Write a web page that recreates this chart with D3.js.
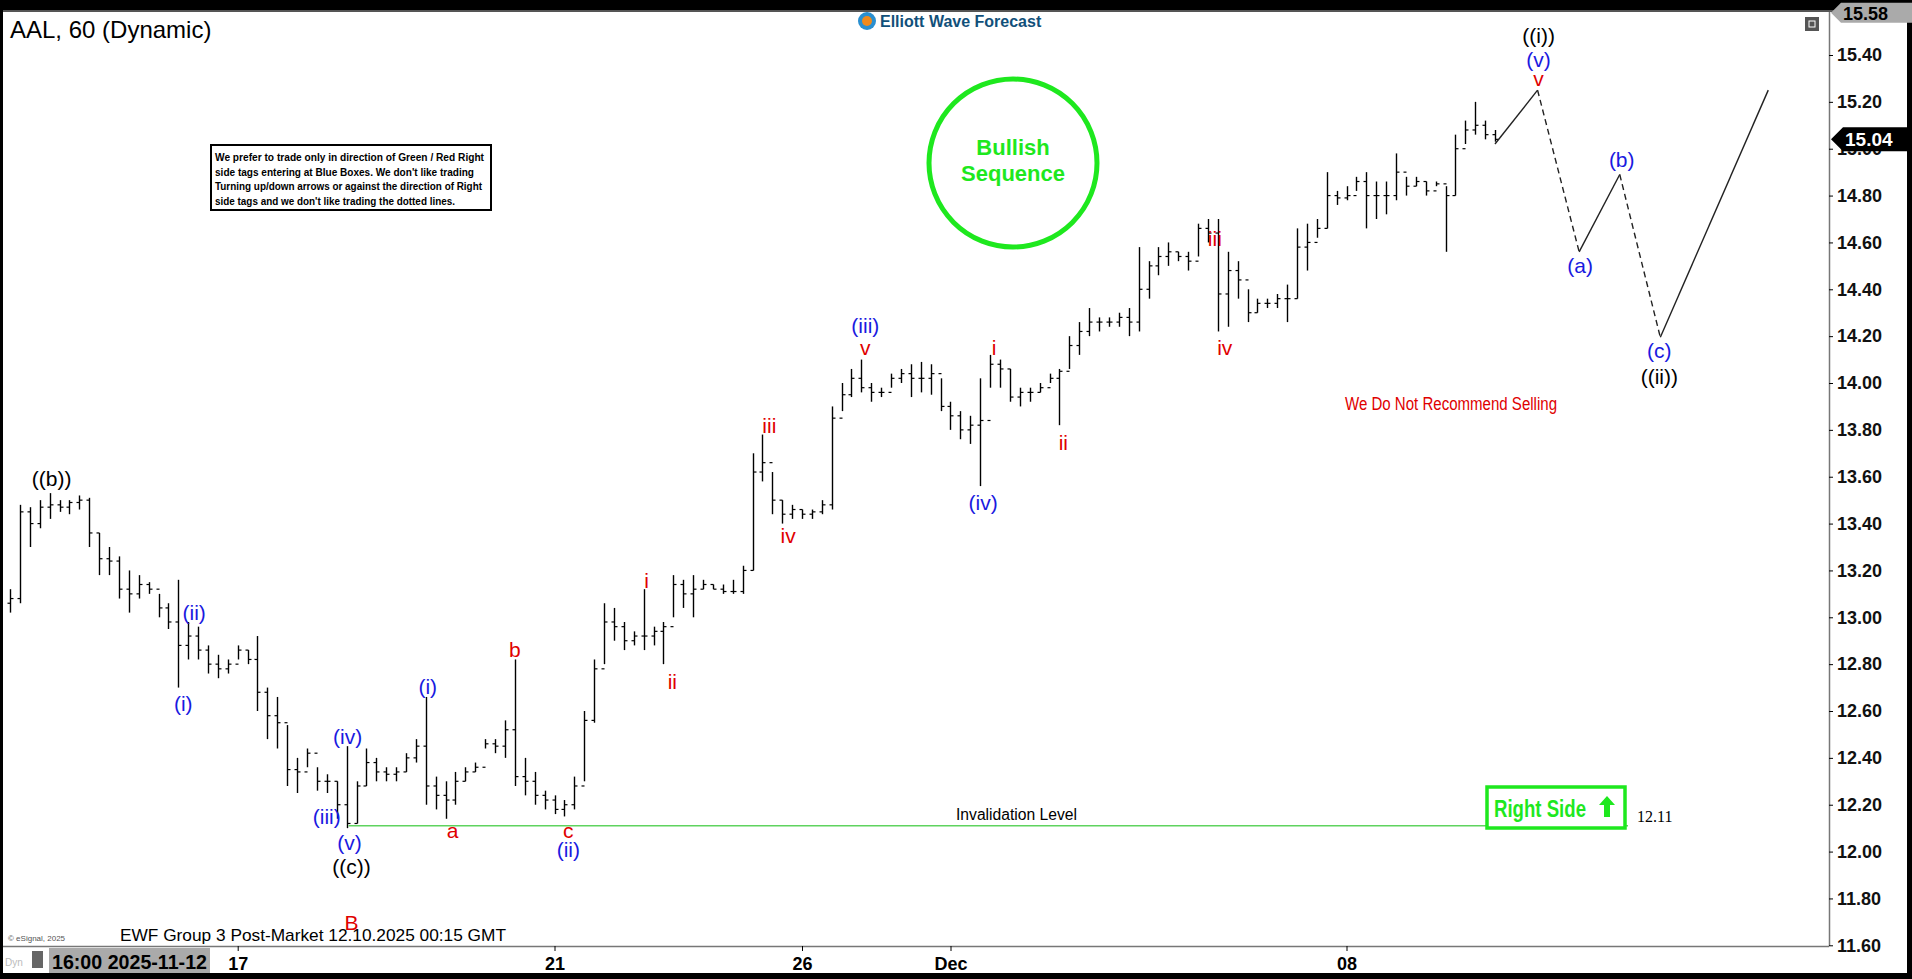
<!DOCTYPE html>
<html><head><meta charset="utf-8">
<script src="https://cdn.jsdelivr.net/npm/d3@7"></script>
<style>body{margin:0;background:#000;overflow:hidden}svg{display:block}</style>
</head><body><svg id="c" width="1912" height="979"></svg>
<script>
// bar data: [high, low, close] per hourly-ish bar
const highs=[13.12,13.48,13.47,13.50,13.53,13.50,13.50,13.52,13.51,13.36,13.30,13.26,13.20,13.18,13.15,13.10,13.06,13.16,12.98,12.96,12.88,12.84,12.82,12.88,12.86,12.92,12.70,12.66,12.54,12.40,12.44,12.36,12.33,12.30,12.45,12.30,12.44,12.40,12.36,12.36,12.42,12.48,12.66,12.32,12.30,12.34,12.36,12.38,12.48,12.48,12.56,12.82,12.40,12.34,12.26,12.24,12.22,12.32,12.60,12.82,13.06,13.04,12.98,12.94,13.12,12.96,12.98,13.18,13.16,13.18,13.16,13.14,13.14,13.16,13.22,13.70,13.78,13.62,13.50,13.48,13.46,13.46,13.50,13.90,14.00,14.06,14.10,14.00,13.98,14.04,14.06,14.08,14.09,14.08,14.02,13.92,13.88,13.86,14.02,14.12,14.10,14.06,13.98,13.98,14.00,14.04,14.06,14.20,14.26,14.32,14.28,14.28,14.30,14.32,14.58,14.52,14.58,14.60,14.56,14.56,14.68,14.70,14.70,14.56,14.52,14.40,14.36,14.36,14.38,14.42,14.66,14.68,14.70,14.90,14.82,14.84,14.88,14.90,14.86,14.86,14.98,14.88,14.88,14.86,14.86,14.84,15.06,15.12,15.20,15.12,15.08];
const lows=[13.02,13.06,13.30,13.38,13.42,13.45,13.44,13.46,13.30,13.18,13.18,13.08,13.02,13.08,13.10,13.00,12.95,12.70,12.82,12.82,12.76,12.74,12.76,12.82,12.80,12.60,12.48,12.44,12.28,12.25,12.36,12.26,12.25,12.14,12.10,12.12,12.28,12.30,12.30,12.30,12.34,12.38,12.20,12.18,12.14,12.20,12.30,12.34,12.44,12.42,12.40,12.28,12.24,12.20,12.18,12.16,12.15,12.18,12.30,12.55,12.80,12.90,12.86,12.88,12.86,12.88,12.80,13.00,13.04,13.00,13.12,13.12,13.10,13.10,13.10,13.20,13.58,13.44,13.40,13.42,13.42,13.42,13.44,13.46,13.88,13.94,13.96,13.92,13.94,13.98,14.00,13.94,13.96,13.95,13.88,13.80,13.76,13.74,13.56,13.98,13.98,13.92,13.90,13.92,13.96,14.00,13.82,14.06,14.12,14.20,14.22,14.24,14.24,14.20,14.22,14.36,14.46,14.50,14.52,14.48,14.54,14.60,14.22,14.24,14.36,14.26,14.30,14.32,14.32,14.26,14.36,14.48,14.62,14.66,14.76,14.78,14.82,14.66,14.70,14.72,14.78,14.80,14.84,14.80,14.84,14.56,14.80,15.02,15.06,15.04,15.03];
const closes=[13.08,13.45,13.40,13.47,13.48,13.47,13.49,13.50,13.36,13.25,13.24,13.12,13.10,13.14,13.12,13.04,12.98,12.88,12.92,12.86,12.80,12.78,12.80,12.86,12.82,12.68,12.58,12.55,12.35,12.34,12.42,12.30,12.30,12.20,12.12,12.28,12.38,12.34,12.33,12.34,12.40,12.45,12.28,12.24,12.22,12.30,12.34,12.36,12.46,12.45,12.52,12.32,12.30,12.24,12.22,12.18,12.20,12.28,12.56,12.78,12.98,12.96,12.90,12.92,12.92,12.94,12.96,13.14,13.10,13.12,13.14,13.12,13.11,13.11,13.20,13.62,13.66,13.50,13.44,13.46,13.44,13.45,13.48,13.85,13.95,14.02,13.98,13.96,13.96,14.02,14.04,14.02,14.02,14.04,13.90,13.86,13.80,13.82,13.84,14.08,14.06,13.94,13.96,13.96,13.98,14.02,14.05,14.16,14.22,14.26,14.26,14.26,14.28,14.26,14.40,14.50,14.54,14.56,14.54,14.52,14.66,14.64,14.38,14.48,14.44,14.30,14.34,14.34,14.36,14.36,14.58,14.60,14.66,14.80,14.79,14.80,14.86,14.80,14.80,14.80,14.90,14.84,14.86,14.82,14.85,14.80,15.00,15.08,15.10,15.06,15.04];
const firstOpen=13.06;
const priceTicks=[11.60,11.80,12.00,12.20,12.40,12.60,12.80,13.00,13.20,13.40,13.60,13.80,14.00,14.20,14.40,14.60,14.80,15.00,15.20,15.40];
const dateTickIdx=[23,55,80,95,135];
const dateTickLabels=["17","21","26","Dec","08"];
// projected path [barIndex, price], solid/dashed legs
const projIdx=[150,154.3,158.5,162.6,166.7,177.6];
const projPx=[15.02,15.25,14.56,14.89,14.195,15.25];
const projDash=[false,true,false,true,false];
// wave labels [text, barIndex, price, colour]
const waveLabels=[
["((b))",4.2,13.59,"#000"],["(ii)",18.6,13.02,"#1a1adf"],["(i)",17.5,12.63,"#1a1adf"],
["(iv)",34.1,12.49,"#1a1adf"],["(iii)",32.0,12.15,"#1a1adf"],["(v)",34.3,12.04,"#1a1adf"],
["((c))",34.5,11.935,"#000"],["B",34.5,11.695,"#e00000"],["(i)",42.2,12.705,"#1a1adf"],
["a",44.7,12.091,"#e00000"],["b",51.0,12.861,"#e00000"],["c",56.4,12.091,"#e00000"],
["(ii)",56.4,12.008,"#1a1adf"],["i",64.3,13.158,"#e00000"],["ii",66.9,12.726,"#e00000"],
["iii",76.7,13.819,"#e00000"],["iv",78.6,13.35,"#e00000"],["(iii)",86.4,14.246,"#1a1adf"],
["v",86.4,14.152,"#e00000"],["i",99.4,14.152,"#e00000"],["(iv)",98.3,13.491,"#1a1adf"],
["ii",106.4,13.746,"#e00000"],["iii",121.7,14.615,"#e00000"],["iv",122.7,14.152,"#e00000"],
["((i))",154.4,15.484,"#000"],["(v)",154.4,15.38,"#1a1adf"],["v",154.4,15.297,"#e00000"],
["(a)",158.6,14.50,"#1a1adf"],["(b)",162.8,14.953,"#1a1adf"],["(c)",166.6,14.136,"#1a1adf"],
["((ii))",166.6,14.027,"#000"]];
const invalidation=12.11, lastPrice=15.04, topPrice=15.58;

const svg=d3.select("#c");
const x=d3.scaleLinear().domain([0,1]).range([10,19.9]);
const y=d3.scaleLinear().domain([15.40,11.60]).range([55,945.3]);
const PR=1829, PB=946;
const NAR="Liberation Sans, Arial";
function ntext(sel,x0,y0,str,w,size,opt={}){
  const t=sel.append("text").attr("x",x0).attr("y",y0).attr("font-family",NAR).attr("font-size",size)
   .attr("textLength",w).attr("lengthAdjust","spacingAndGlyphs").text(str);
  if(opt.bold)t.attr("font-weight","bold");
  if(opt.fill)t.attr("fill",opt.fill);
  return t;
}
svg.append("rect").attr("x",3).attr("y",10).attr("width",1904).attr("height",963).attr("fill","#fff");
svg.append("rect").attr("x",3).attr("y",10).attr("width",1904).attr("height",2).attr("fill","#555");
const g=svg.append("g");
g.append("clipPath").attr("id","cp").append("rect").attr("x",3).attr("y",12).attr("width",PR-3).attr("height",PB-12);
const plot=g.append("g").attr("clip-path","url(#cp)");

closes.forEach((c,i)=>{
  const o=i?closes[i-1]:firstOpen, xx=Math.round(x(i))+0.5;
  plot.append("line").attr("x1",xx).attr("x2",xx).attr("y1",y(highs[i])).attr("y2",y(lows[i])).attr("stroke","#000").attr("stroke-width",1.4);
  plot.append("line").attr("x1",xx-3).attr("x2",xx).attr("y1",y(o)).attr("y2",y(o)).attr("stroke","#000").attr("stroke-width",1.2);
  plot.append("line").attr("x1",xx).attr("x2",xx+3).attr("y1",y(c)).attr("y2",y(c)).attr("stroke","#000").attr("stroke-width",1.2);
});
plot.append("line").attr("x1",x(34.2)).attr("x2",1628).attr("y1",y(invalidation)).attr("y2",y(invalidation)).attr("stroke","#5fd35f").attr("stroke-width",1.5);
ntext(plot,956,y(invalidation)-6,"Invalidation Level",121,16);
svg.append("text").attr("x",1637).attr("y",y(invalidation)-4).attr("font-family","Liberation Serif, serif").attr("font-size",16).text("12.11");
svg.append("rect").attr("x",1487).attr("y",787).attr("width",138).attr("height",41).attr("fill","#fff").attr("stroke","#1ee81e").attr("stroke-width",3.5);
ntext(svg,1494,817,"Right Side",92,24,{bold:true,fill:"#1ee81e"});
svg.append("path").attr("d","M1604,817 v-12 h-5 l8,-9 l8,9 h-5 v12 z").attr("fill","#1ee81e");
for(let k=0;k<projDash.length;k++){
  plot.append("line").attr("x1",x(projIdx[k])).attr("y1",y(projPx[k])).attr("x2",x(projIdx[k+1])).attr("y2",y(projPx[k+1]))
  .attr("stroke","#222").attr("stroke-width",1.4).attr("stroke-dasharray",projDash[k]?"6,4":null);
}
waveLabels.forEach(([t,i,p,c])=>{
  plot.append("text").attr("x",x(i)).attr("y",y(p)).attr("dy","0.35em").attr("text-anchor","middle")
   .attr("font-family","Liberation Sans, Arial").attr("font-size",21).attr("fill",c).text(t);
});
svg.append("circle").attr("cx",1013).attr("cy",163).attr("r",84).attr("fill","#fff").attr("stroke","#1ee81e").attr("stroke-width",5);
["Bullish","Sequence"].forEach((t,k)=>svg.append("text").attr("x",1013).attr("y",155+k*26).attr("text-anchor","middle")
  .attr("font-family","Liberation Sans, Arial").attr("font-weight","bold").attr("font-size",22).attr("fill","#1ee81e").text(t));
svg.append("rect").attr("x",211).attr("y",145).attr("width",280).attr("height",65).attr("fill","#fff").attr("stroke","#000").attr("stroke-width",2);
[["We prefer to trade only in direction of Green / Red Right",269],["side tags entering at Blue Boxes. We don't like trading",259],["Turning up/down arrows or against the direction of Right",267],["side tags and we don't like trading the dotted lines.",240]]
.forEach(([t,w],k)=>ntext(svg,215,161+k*14.5,t,w,11.5,{bold:true}));
ntext(svg,1345,410,"We Do Not Recommend Selling",212,18,{fill:"#e00000"});
svg.append("text").attr("x",10).attr("y",38).attr("font-family","Liberation Sans, Arial").attr("font-size",24).text("AAL, 60 (Dynamic)");
svg.append("circle").attr("cx",867).attr("cy",21).attr("r",9).attr("fill","#2a8fd0");
svg.append("circle").attr("cx",867).attr("cy",21).attr("r",5).attr("fill","#f08a1c");
svg.append("text").attr("x",880).attr("y",27).attr("font-family","Liberation Sans, Arial").attr("font-weight","bold").attr("font-size",16).attr("fill","#11507a").text("Elliott Wave Forecast");
svg.append("rect").attr("x",1805).attr("y",17).attr("width",14).attr("height",14).attr("fill","#555");
svg.append("rect").attr("x",1809).attr("y",21).attr("width",6).attr("height",6).attr("fill","none").attr("stroke","#fff");
svg.append("line").attr("x1",PR+0.5).attr("x2",PR+0.5).attr("y1",12).attr("y2",PB).attr("stroke","#777").attr("stroke-width",1.5);
const ya=d3.axisRight(y).tickValues(priceTicks).tickFormat(d3.format(".2f")).tickSize(4);
const yg=svg.append("g").attr("transform",`translate(${PR},0)`).call(ya);
yg.select(".domain").remove();
yg.selectAll("text").attr("font-family","Liberation Sans, Arial").attr("font-weight","bold").attr("font-size",18).attr("fill","#111").attr("x",8);
svg.append("path").attr("d",`M${PR+2},${y(topPrice)} l10,-10 h74 v20 h-74 z`).attr("fill","#aaa");
svg.append("text").attr("x",PR+14).attr("y",y(topPrice)+7).attr("font-family","Liberation Sans, Arial").attr("font-weight","bold").attr("font-size",18).text(topPrice.toFixed(2));
svg.append("path").attr("d",`M${PR+2},${y(lastPrice)} l12,-12 h72 v24 h-72 z`).attr("fill","#000");
svg.append("text").attr("x",PR+16).attr("y",y(lastPrice)+7).attr("font-family","Liberation Sans, Arial").attr("font-weight","bold").attr("font-size",19).attr("fill","#fff").text(lastPrice.toFixed(2));
svg.append("line").attr("x1",3).attr("x2",PR).attr("y1",PB+0.5).attr("y2",PB+0.5).attr("stroke","#777").attr("stroke-width",1.5);
const xa=d3.axisBottom(x).tickValues(dateTickIdx).tickFormat((d,i)=>dateTickLabels[i]).tickSize(5);
const xg=svg.append("g").attr("transform",`translate(0,${PB})`).call(xa);
xg.select(".domain").remove();
xg.selectAll("text").attr("font-family","Liberation Sans, Arial").attr("font-weight","bold").attr("font-size",18).attr("fill","#000").attr("dy","0.9em");
svg.append("rect").attr("x",49).attr("y",948).attr("width",161).attr("height",25).attr("fill","#aaa");
ntext(svg,52,969,"16:00 2025-11-12",155,20,{bold:true});
svg.append("text").attr("x",5).attr("y",966).attr("font-family","Liberation Sans, Arial").attr("font-size",10).attr("fill","#bbb").text("Dyn");
svg.append("rect").attr("x",32).attr("y",951).attr("width",11).attr("height",17).attr("fill","#666");
ntext(svg,120,941,"EWF Group 3 Post-Market 12.10.2025 00:15 GMT",386,17);
svg.append("text").attr("x",8).attr("y",941).attr("font-family","Liberation Sans, Arial").attr("font-size",8).attr("fill","#555").text("© eSignal, 2025");
</script></body></html>
